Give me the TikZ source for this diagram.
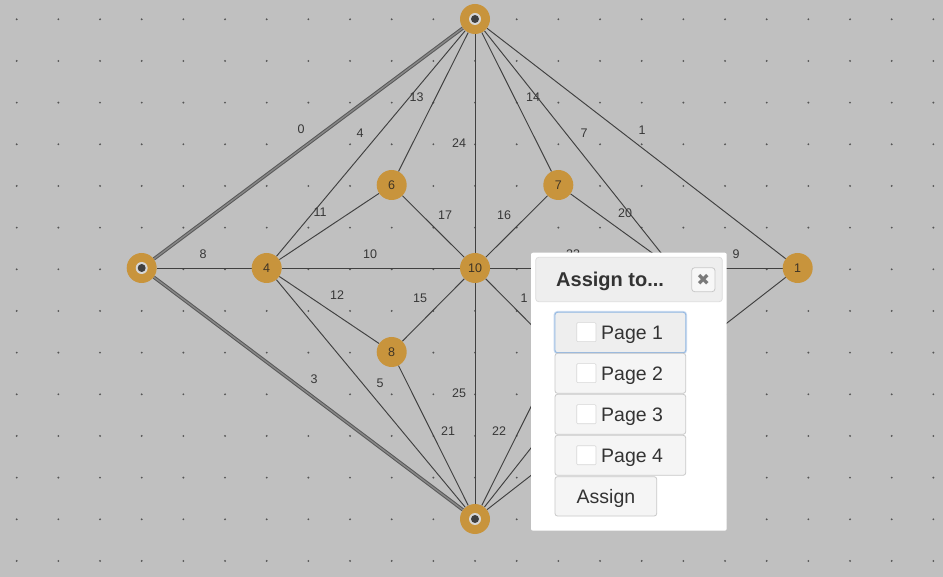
\documentclass[tikz,border=0pt]{standalone}
\usepackage{fontspec}
\setmainfont{Liberation Sans}
\newfontfamily\symfont{DejaVu Sans}
\usetikzlibrary{backgrounds}
\definecolor{bgc}{RGB}{192,192,192}
\definecolor{dotc}{RGB}{85,85,85}
\definecolor{edgec}{RGB}{64,64,64}
\definecolor{goldc}{RGB}{200,148,60}
\definecolor{numc}{RGB}{62,52,38}
\definecolor{labc}{RGB}{55,55,55}
\definecolor{txtc}{RGB}{51,51,51}
\definecolor{hdrc}{RGB}{238,238,238}
\definecolor{hdrb}{RGB}{220,220,220}
\definecolor{btnc}{RGB}{245,245,245}
\definecolor{btnb}{RGB}{200,200,200}
\definecolor{focb}{RGB}{150,185,225}
\definecolor{glowc}{RGB}{200,218,240}
\definecolor{ringc}{RGB}{215,215,215}
\definecolor{dbldark}{RGB}{88,88,88}
\definecolor{dbllight}{RGB}{135,135,135}
\tikzset{
  vnode/.style={circle,fill=goldc,minimum size=30pt,inner sep=0pt,text=numc,font=\fontsize{12.5}{14}\selectfont},
  tnode/.style={circle,fill=goldc,minimum size=30pt,inner sep=0pt},
  elab/.style={inner sep=0pt,text=labc,font=\fontsize{12.5}{14}\selectfont},
  edge/.style={draw=edgec,line width=0.95pt},
  dbl/.style={draw=dbldark,line width=1pt,double=dbllight,double distance=1.4pt},
  btn/.style={fill=btnc,draw=btnb,line width=0.8pt,rounded corners=2.5pt},
  btntext/.style={anchor=base west,inner sep=0pt,text=txtc,font=\fontsize{19.5}{22}\selectfont},
  chk/.style={fill=white,draw=ringc,line width=0.6pt,rounded corners=1pt}
}
\begin{document}
\begin{tikzpicture}[x=1pt,y=-1pt]
\useasboundingbox (0,0) rectangle (943,577);
% nodes
\node[tnode] (T) at (475,19) {};
\node[tnode] (L) at (141.7,268) {};
\node[tnode] (B) at (475,519) {};
\node[vnode] (n4) at (266.7,268) {4};
\node[vnode] (n6) at (391.7,185) {6};
\node[vnode] (n7) at (558.3,185) {7};
\node[vnode] (n10) at (475,268) {10};
\node[vnode] (n8) at (391.7,352) {8};
\node[vnode] (n1) at (797.7,268) {1};
\coordinate (H1) at (673,268);
\coordinate (H2) at (558.3,352);
\foreach \t in {T,L,B}{
  \fill[ringc] (\t) circle (6pt);
  \fill[black!75] (\t) circle (4pt);
}
\begin{pgfonlayer}{background}
\fill[bgc] (0,0) rectangle (943,577);
\foreach \i in {0,...,22}{
  \foreach \j in {0,...,13}{
    \fill[dotc] ({16.7+41.667*\i},{19.3+41.667*\j}) circle (1.05pt);
  }
}
\draw[dbl] (T) -- (L);
\draw[dbl] (L) -- (B);
\draw[edge] (T) -- (n4);
\draw[edge] (T) -- (n6);
\draw[edge] (T) -- (n10);
\draw[edge] (T) -- (n7);
\draw[edge] (T) -- (H1);
\draw[edge] (T) -- (n1);
\draw[edge] (L) -- (n4);
\draw[edge] (n4) -- (n6);
\draw[edge] (n4) -- (n10);
\draw[edge] (n6) -- (n10);
\draw[edge] (n7) -- (n10);
\draw[edge] (n7) -- (H1);
\draw[edge] (n10) -- (H1);
\draw[edge] (H1) -- (n1);
\draw[edge] (n4) -- (n8);
\draw[edge] (n4) -- (B);
\draw[edge] (n10) -- (n8);
\draw[edge] (n8) -- (B);
\draw[edge] (n10) -- (B);
\draw[edge] (n10) -- (H2);
\draw[edge] (B) -- (H2);
\draw[edge] (B) -- (H1);
\draw[edge] (B) -- (n1);
\end{pgfonlayer}
% edge labels
\node[elab] (l0) at (301,129) {0};
\node[elab] (l4) at (360,133) {4};
\node[elab] (l13) at (416.5,97.5) {13};
\node[elab] (l24) at (459,143.5) {24};
\node[elab] (l14) at (533,97.5) {14};
\node[elab] (l7) at (584,133) {7};
\node[elab] (l1) at (642,130) {1};
\node[elab] (l8) at (203,254) {8};
\node[elab] (l11) at (320,212) {11};
\node[elab] (l10) at (370,254) {10};
\node[elab] (l17) at (445,215.5) {17};
\node[elab] (l16) at (504,215) {16};
\node[elab] (l20) at (625,213) {20};
\node[elab] (l23) at (573,254) {23};
\node[elab] (l9) at (736,254) {9};
\node[elab] (l12) at (337,295) {12};
\node[elab] (l15) at (420,298) {15};
\begin{scope}
\clip (0,0) rectangle (527.3,577);
\node[elab] (l18) at (527.5,298) {18};
\end{scope}
\node[elab] (l3) at (314,379) {3};
\node[elab] (l5) at (380,383) {5};
\node[elab] (l25) at (459,393) {25};
\node[elab] (l21) at (448,431.5) {21};
\node[elab] (l22) at (499,431.5) {22};
% popup
\fill[white,rounded corners=2pt] (531,252.7) rectangle (726.7,530.7);
\draw[fill=hdrc,draw=hdrb,line width=0.8pt,rounded corners=3pt] (535.7,257.3) rectangle (722.3,301.7);
\node[anchor=base west,inner sep=0pt,text=txtc,font=\bfseries\fontsize{20}{24}\selectfont] (title) at (556,286.7) {Assign to...};
\draw[fill=white!97!black,draw=btnb,line width=0.8pt,rounded corners=3pt] (691.7,267.7) rectangle (715,291.7);
\node[inner sep=0pt,text=black!52,font=\symfont\fontsize{16}{18}\selectfont] (close) at (703.3,279.7) {✖};
% buttons
\draw[draw=glowc,line width=3pt,rounded corners=3pt] (555,312.3) rectangle (685.7,352.7);
\draw[fill=hdrc,draw=focb,line width=0.9pt,rounded corners=2.5pt] (555,312.3) rectangle (685.7,352.7);
\draw[btn] (555,353.3) rectangle (685.7,393.3);
\draw[btn] (555,394.3) rectangle (685.7,434.3);
\draw[btn] (555,435.3) rectangle (685.7,475.3);
\draw[btn] (555,476.7) rectangle (656.7,516);
\draw[chk] (576.7,322.7) rectangle (596,341.7);
\draw[chk] (576.7,363.7) rectangle (596,382.7);
\draw[chk] (576.7,404.7) rectangle (596,423.7);
\draw[chk] (576.7,445.7) rectangle (596,464.7);
\node[btntext] (p1) at (601,340) {Page 1};
\node[btntext] (p2) at (601,381) {Page 2};
\node[btntext] (p3) at (601,421.8) {Page 3};
\node[btntext] (p4) at (601,462.7) {Page 4};
\node[btntext,anchor=base] (asg) at (606,503.3) {Assign};
\end{tikzpicture}
\end{document}
